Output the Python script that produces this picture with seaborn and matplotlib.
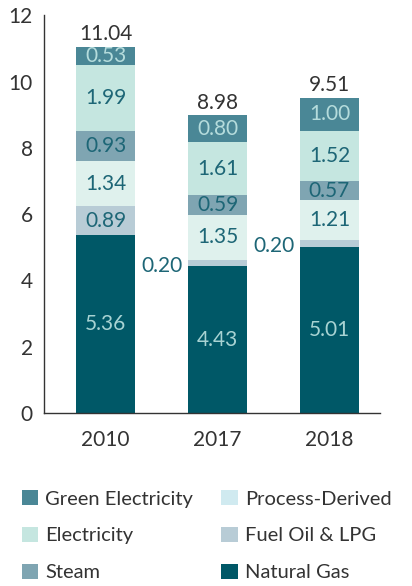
import numpy as np
import pandas as pd
import matplotlib.pyplot as plt
import seaborn as sns
from matplotlib.patches import Patch

years = ["2010", "2017", "2018"]
natural_gas = [5.36, 4.43, 5.01]
fuel_oil = [0.89, 0.20, 0.20]
process_derived = [1.34, 1.35, 1.21]
steam = [0.93, 0.59, 0.57]
electricity = [1.99, 1.61, 1.52]
green_electricity = [0.53, 0.80, 1.00]
totals = ["11.04", "8.98", "9.51"]

# bottom -> top
layers = ["Natural Gas", "Fuel Oil & LPG", "Process-Derived", "Steam", "Electricity", "Green Electricity"]
values = [natural_gas, fuel_oil, process_derived, steam, electricity, green_electricity]
colors = {
    "Natural Gas": "#005867",
    "Fuel Oil & LPG": "#b8ccd6",
    "Process-Derived": "#dff1ed",
    "Steam": "#7fa5b2",
    "Electricity": "#c5e6e0",
    "Green Electricity": "#4a8796",
}
legend_patch = dict(colors)
legend_patch["Process-Derived"] = "#d0eaf0"
label_color = {
    "Natural Gas": "#a8d3d3",
    "Fuel Oil & LPG": "#1d6676",
    "Process-Derived": "#1d6676",
    "Steam": "#1d6676",
    "Electricity": "#1d6676",
    "Green Electricity": "#b5dcdc",
}

sns.set_style("white")
plt.rcParams['font.family'] = ['Lato', 'DejaVu Sans']

fig = plt.figure(figsize=(4.12, 5.86), dpi=100)
ax = fig.add_axes([0.107, 0.295, 0.815, 0.679])

df = pd.DataFrame({"year": years})
cum = np.cumsum(np.array(values), axis=0)
# draw cumulative heights from top down so lower layers cover upper ones
for i in range(len(layers) - 1, -1, -1):
    df["h"] = cum[i]
    sns.barplot(data=df, x="year", y="h", color=colors[layers[i]], width=0.53,
                saturation=1, ax=ax, edgecolor="none", linewidth=0)

fs = 15
for j in range(len(years)):
    for i, name in enumerate(layers):
        v = values[i][j]
        base = cum[i][j] - v
        if name == "Fuel Oil & LPG" and v < 0.5:
            ax.text(j - 0.5, base + 0.02, f"{v:.2f}", ha="center", va="center",
                    color="#1d6676", fontsize=fs)
        else:
            ax.text(j, base + v / 2, f"{v:.2f}", ha="center", va="center",
                    color=label_color[name], fontsize=fs)
    ax.text(j, cum[-1][j] + 0.08, totals[j], ha="center", va="bottom",
            color="#333333", fontsize=fs)

ax.set_ylim(0, 12)
ax.set_xlim(-0.55, 2.45)
ax.set_yticks(range(0, 13, 2))
ax.set_xlabel("")
ax.set_ylabel("")
ax.tick_params(axis="both", length=0, labelsize=fs, colors="#333333", pad=8)
ax.tick_params(axis="x", pad=12)
for s in ["top", "right"]:
    ax.spines[s].set_visible(False)
for s in ["left", "bottom"]:
    ax.spines[s].set_color("#333333")
    ax.spines[s].set_linewidth(1)

order = ["Green Electricity", "Electricity", "Steam", "Process-Derived", "Fuel Oil & LPG", "Natural Gas"]
handles = [Patch(facecolor=legend_patch[n], edgecolor="none", label=n) for n in order]
fig.legend(handles=handles, loc="upper left", bbox_to_anchor=(0.01, 0.195), ncol=2,
           frameon=False, fontsize=14.5, handlelength=0.8, handleheight=0.8,
           handletextpad=0.35, columnspacing=1.4, labelspacing=0.95, labelcolor="#333333")

fig.savefig("out.png", dpi=100)
